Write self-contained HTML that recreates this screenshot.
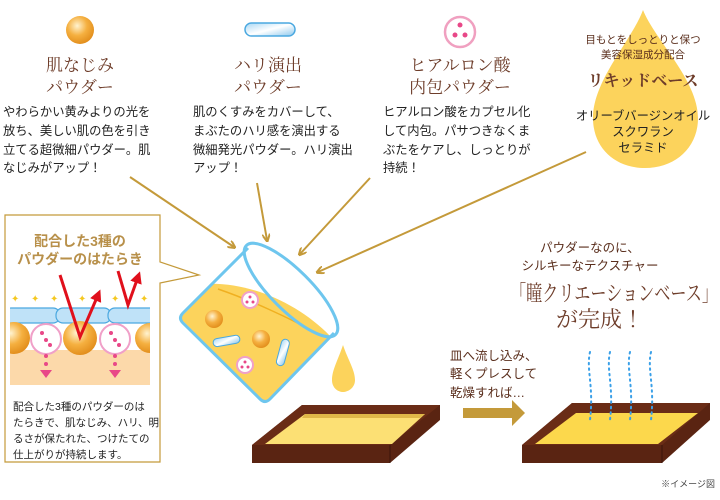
<!DOCTYPE html>
<html><head><meta charset="utf-8"><style>
body{margin:0;background:#fff}
svg{display:block}
.t{font-family:"Liberation Serif","Noto Serif CJK JP",serif;fill:#6e3d2a;font-size:17px;text-anchor:middle}
.b{font-family:"Liberation Sans","Noto Sans CJK JP",sans-serif;fill:#222;font-size:12.3px}
.br{font-family:"Liberation Sans","Noto Sans CJK JP",sans-serif;fill:#5a2e1c}
</style></head><body>
<svg width="720" height="500" viewBox="0 0 720 500" xmlns="http://www.w3.org/2000/svg">
<defs>
<radialGradient id="og" cx="0.4" cy="0.35" r="0.7"><stop offset="0" stop-color="#fff3d0"/><stop offset="0.5" stop-color="#f5b040"/><stop offset="1" stop-color="#e08a18"/></radialGradient>
<linearGradient id="bg" x1="0" y1="0" x2="1" y2="1"><stop offset="0" stop-color="#a8d8f4"/><stop offset="0.5" stop-color="#ffffff"/><stop offset="1" stop-color="#8cc8ee"/></linearGradient>
<marker id="ah" markerWidth="8" markerHeight="8" refX="6" refY="4" orient="auto" markerUnits="userSpaceOnUse"><path d="M0,0 L8,4 L0,8" fill="none" stroke="#c49a3a" stroke-width="2"/></marker>
<marker id="rh" markerWidth="12" markerHeight="12" refX="6" refY="6" orient="auto" markerUnits="userSpaceOnUse"><path d="M0,0 L12,6 L0,12 Z" fill="#e0101c"/></marker>
<clipPath id="boxclip"><rect x="10" y="290" width="140" height="100"/></clipPath>
<clipPath id="bk"><polygon points="248,248 180,318 265,403 336,333"/></clipPath>
</defs>

<!-- icons -->
<circle cx="80" cy="30" r="14" fill="url(#og)"/>
<rect x="245" y="23" width="50" height="13" rx="6.5" fill="url(#bg)" stroke="#4aa8e0" stroke-width="1.5"/>
<circle cx="460" cy="32" r="15" fill="#fff" stroke="#f0a0c0" stroke-width="2.5"/>
<circle cx="460" cy="25" r="2.5" fill="#e84888"/><circle cx="455" cy="35" r="2.5" fill="#e84888"/><circle cx="465" cy="35" r="2.5" fill="#e84888"/>

<!-- titles -->
<text class="t" x="80" y="71">肌なじみ</text><text class="t" x="80" y="93">パウダー</text>
<text class="t" x="268" y="71">ハリ演出</text><text class="t" x="268" y="93">パウダー</text>
<text class="t" x="460" y="71">ヒアルロン酸</text><text class="t" x="460" y="93">内包パウダー</text>

<!-- body -->
<text class="b" x="3" y="116">やわらかい黄みよりの光を</text>
<text class="b" x="3" y="135">放ち、美しい肌の色を引き</text>
<text class="b" x="3" y="154">立てる超微細パウダー。肌</text>
<text class="b" x="3" y="172">なじみがアップ！</text>
<text class="b" x="193" y="116">肌のくすみをカバーして、</text>
<text class="b" x="193" y="135">まぶたのハリ感を演出する</text>
<text class="b" x="193" y="154">微細発光パウダー。ハリ演出</text>
<text class="b" x="193" y="172">アップ！</text>
<text class="b" x="383" y="116">ヒアルロン酸をカプセル化</text>
<text class="b" x="383" y="135">して内包。パサつきなくま</text>
<text class="b" x="383" y="154">ぶたをケアし、しっとりが</text>
<text class="b" x="383" y="172">持続！</text>

<!-- drop -->
<path d="M643,10 C632,40 593,80 593,118 C593,148 615,168 645,168 C675,168 698,148 698,118 C698,80 655,40 643,10 Z" fill="#fcd35c"/>
<text class="br" x="643" y="43" font-size="10.5" text-anchor="middle">目もとをしっとりと保つ</text>
<text class="br" x="643" y="58" font-size="10.5" text-anchor="middle">美容保湿成分配合</text>
<text class="t" x="643" y="86" style="font-size:16px;font-weight:bold">リキッドベース</text>
<text class="b" x="643" y="120" text-anchor="middle" fill="#111">オリーブバージンオイル</text>
<text class="b" x="643" y="136" text-anchor="middle" fill="#111">スクワラン</text>
<text class="b" x="643" y="152" text-anchor="middle" fill="#111">セラミド</text>

<!-- arrows -->
<g stroke="#c49a3a" stroke-width="2" fill="none" marker-end="url(#ah)">
<line x1="130" y1="177" x2="234" y2="247"/>
<line x1="257" y1="183" x2="267" y2="240"/>
<line x1="370" y1="178" x2="300" y2="254"/>
<line x1="586" y1="152" x2="318" y2="272"/>
</g>

<!-- left box -->
<path d="M5,215 H160 V262 L199,275 L160,283 V462 H5 Z" fill="#fff" stroke="#c49a3a" stroke-width="1.2"/>
<text x="80" y="246" font-size="14" text-anchor="middle" fill="#b8904a" font-family="Liberation Sans,Noto Sans CJK JP,sans-serif" font-weight="bold">配合した3種の</text>
<text x="80" y="264" font-size="14" text-anchor="middle" fill="#b8904a" font-family="Liberation Sans,Noto Sans CJK JP,sans-serif" font-weight="bold">パウダーのはたらき</text>
<g clip-path="url(#boxclip)">
<rect x="10" y="350" width="140" height="35" fill="#fcd9aa"/>
<g fill="#f5c820" font-size="10" font-family="DejaVu Sans,sans-serif"><text x="11" y="302">✦</text><text x="31" y="302">✦</text><text x="50" y="302">✦</text><text x="78" y="302">✦</text><text x="111" y="302">✦</text><text x="140" y="302">✦</text></g>
<g fill="#bfe2f8" stroke="#4aa8e0" stroke-width="1.2">
<rect x="4" y="308" width="56" height="15" rx="7"/><rect x="56" y="308" width="55" height="15" rx="7"/><rect x="108" y="308" width="50" height="15" rx="7"/></g>
<g fill="url(#og)"><circle cx="14" cy="338" r="16"/><circle cx="80" cy="338" r="17"/><circle cx="150" cy="338" r="15"/></g>
<g fill="#fff" stroke="#f0a0c8" stroke-width="2"><circle cx="46" cy="339" r="15"/><circle cx="115" cy="339" r="15"/></g>
<g fill="#e84888"><circle cx="42" cy="333" r="2"/><circle cx="46" cy="340" r="2"/><circle cx="50" cy="345" r="2"/><circle cx="111" cy="333" r="2"/><circle cx="115" cy="340" r="2"/><circle cx="119" cy="345" r="2"/>
<circle cx="46" cy="356" r="2"/><circle cx="115" cy="356" r="2"/><circle cx="46" cy="364" r="2"/><circle cx="115" cy="364" r="2"/>
<path d="M40,370 H52 L46,378 Z"/><path d="M109,370 H121 L115,378 Z"/></g>
</g>
<g stroke="#e0101c" stroke-width="3" fill="none">
<polyline points="60,275 80,337 98,295" marker-end="url(#rh)"/>
<polyline points="118,271 128,305 138,277" marker-end="url(#rh)"/></g>
<g class="b" font-size="10.5" style="font-size:10.5px"><text x="13" y="410">配合した3種のパウダーのは</text><text x="13" y="426">たらきで、肌なじみ、ハリ、明</text><text x="13" y="442">るさが保たれた、つけたての</text><text x="13" y="458">仕上がりが持続します。</text></g>

<!-- beaker -->
<g clip-path="url(#bk)">
<path d="M195,285 C240,278 295,300 330,336 L265,405 L175,318 Z" fill="#fcd35c"/>
</g>
<path d="M218,289 C250,300 290,318 320,335" stroke="#f0b020" stroke-width="1.5" fill="none"/>
<path d="M248,248 L183,313 Q178,318 183,323 L260,399 Q265,404 270,399 L334,333" fill="none" stroke="#6ec6ee" stroke-width="3"/>
<ellipse cx="291" cy="290" rx="63" ry="20" transform="rotate(45 291 290)" fill="none" stroke="#6ec6ee" stroke-width="3"/>
<circle cx="214" cy="319" r="9" fill="url(#og)"/><circle cx="261" cy="339" r="9" fill="url(#og)"/>
<g fill="#fff" stroke="#f0a0c8" stroke-width="2"><circle cx="250" cy="300" r="8"/><circle cx="245" cy="365" r="8"/></g>
<g fill="#e84888"><circle cx="250" cy="297" r="1.5"/><circle cx="247" cy="302" r="1.5"/><circle cx="253" cy="302" r="1.5"/><circle cx="245" cy="362" r="1.5"/><circle cx="242" cy="367" r="1.5"/><circle cx="248" cy="367" r="1.5"/></g>
<rect x="213" y="337" width="27" height="8" rx="4" transform="rotate(-10 226 341)" fill="url(#bg)" stroke="#4aa8e0"/>
<rect x="279" y="339" width="8" height="27" rx="4" transform="rotate(15 283 352)" fill="url(#bg)" stroke="#4aa8e0"/>
<path d="M343,345 C338,360 332,370 332,380 C332,388 338,392 343,392 C348,392 355,388 355,380 C355,370 348,360 343,345 Z" fill="#fcd35c"/>

<!-- tray1 -->
<path d="M302,405 H440 V420 L390,463 H252 V445 Z" fill="#5a2412"/>
<path d="M302,405 H440 L390,445 H252 Z" fill="#6a2c16"/>
<path d="M305,414 H425 L392,444 H265 Z" fill="#fce074"/>
<path d="M305,414 H425 L420,418 H302 Z" fill="#e0b848"/>
<line x1="390" y1="445" x2="390" y2="463" stroke="#3a140a"/>

<!-- middle text and arrow -->
<g class="br" font-size="12.5" style="font-size:12.5px"><text x="450" y="360">皿へ流し込み、</text><text x="450" y="378">軽くプレスして</text><text x="450" y="397">乾燥すれば…</text></g>
<path d="M463,408 H512 V400 L525,413 L512,426 V418 H463 Z" fill="#c49a3a"/>

<!-- tray2 -->
<path d="M572,403 H710 V420 L662,463 H522 V445 Z" fill="#5a2412"/>
<path d="M572,403 H710 L662,445 H522 Z" fill="#6a2c16"/>
<path d="M576,413 H698 L658,444 H535 Z" fill="#fcd84c"/>
<line x1="662" y1="445" x2="662" y2="463" stroke="#3a140a"/>
<g stroke="#3aa0e8" stroke-width="2" stroke-dasharray="1.5 4" fill="none" stroke-linecap="round">
<path d="M590,352 C586,370 594,385 590,420"/><path d="M610,352 C606,370 614,385 610,420"/><path d="M630,352 C626,370 634,385 630,420"/><path d="M651,352 C647,370 655,385 651,420"/></g>

<!-- right text -->
<g class="br" text-anchor="middle"><text x="590" y="252" font-size="12.5">パウダーなのに、</text><text x="590" y="270" font-size="12.5">シルキーなテクスチャー</text></g>
<text class="t" x="510" y="301" text-anchor="start" style="font-size:22px;text-anchor:start" textLength="208" lengthAdjust="spacingAndGlyphs">「瞳クリエーションベース」</text>
<text class="t" x="600" y="327" style="font-size:22px">が完成！</text>
<text x="715" y="487" font-size="9" text-anchor="end" fill="#444" font-family="Liberation Sans,Noto Sans CJK JP,sans-serif">※イメージ図</text>
</svg>
</body></html>
